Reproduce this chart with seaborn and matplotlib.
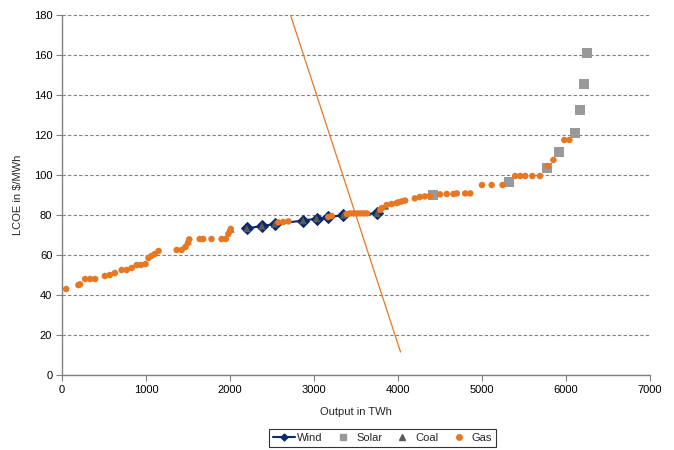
import matplotlib
matplotlib.use('Agg')
import matplotlib.pyplot as plt
from matplotlib.lines import Line2D
import seaborn as sns
import pandas as pd

# Data
wind_x = [2200, 2380, 2530, 2870, 3030, 3170, 3350, 3750]
wind_y = [73.3, 74.5, 75.5, 77.2, 78.2, 78.8, 80.0, 80.8]

solar_x = [4420, 5325, 5770, 5917, 6111, 6163, 6210, 6246]
solar_y = [89.8, 96.3, 103.3, 111.7, 121.2, 132.3, 145.3, 161.0]

coal_x = [1500, 2010, 2200, 2380, 2530, 2870, 3030, 3350, 3750, 3850]
coal_y = [67.0, 73.0, 73.3, 74.5, 75.5, 77.2, 78.2, 80.0, 80.8, 84.5]

gas_x = [50, 195, 215, 275, 335, 395, 510, 570, 630, 710, 770, 830, 890, 940,
         995, 1030, 1065, 1105, 1150, 1365, 1425, 1470, 1500, 1515, 1640, 1680,
         1780, 1900, 1950, 1980, 2000, 2010, 2575, 2635, 2695, 3170, 3210, 3390,
         3430, 3470, 3510, 3550, 3590, 3630, 3790, 3810, 3865, 3925, 3985, 4005,
         4045, 4085, 4200, 4260, 4320, 4380, 4500, 4580, 4660, 4700, 4800, 4860,
         5000, 5115, 5245, 5395, 5455, 5515, 5600, 5690, 5780, 5850, 5980, 6040]
gas_y = [43.0, 45.0, 45.3, 48.0, 48.0, 48.0, 49.5, 50.0, 51.0, 52.5, 52.5, 53.5,
         55.0, 55.0, 55.5, 58.5, 59.5, 60.5, 62.0, 62.5, 62.5, 64.0, 66.0, 67.8,
         68.0, 68.0, 68.0, 68.0, 68.0, 70.5, 72.0, 73.0, 76.3, 76.5, 76.8, 79.0,
         79.5, 80.5, 80.8, 80.8, 80.8, 80.8, 80.8, 80.8, 82.5, 83.5, 85.0, 85.5,
         86.0, 86.3, 86.8, 87.2, 88.3, 89.0, 89.3, 89.5, 90.3, 90.5, 90.5, 90.8,
         90.8, 90.8, 95.0, 95.0, 95.0, 99.5, 99.5, 99.5, 99.5, 99.5, 104.5, 107.5,
         117.5, 117.5]

demand_x = [2720, 4030]
demand_y = [180, 11.5]

# Colours
NAVY = '#0B2A6B'
GREY = '#999999'
COAL = '#5A5A5A'
ORANGE = '#E87722'

sns.set_style('white')
plt.rcParams['font.family'] = ['Liberation Sans', 'DejaVu Sans']

fig = plt.figure(figsize=(6.74, 4.5), dpi=100)
ax = fig.add_axes([62 / 674, 1 - 375 / 450, 588 / 674, 360 / 450])

wind = pd.DataFrame({'x': wind_x, 'y': wind_y})
solar = pd.DataFrame({'x': solar_x, 'y': solar_y})
coal = pd.DataFrame({'x': coal_x, 'y': coal_y})
gas = pd.DataFrame({'x': gas_x, 'y': gas_y})

sns.lineplot(data=wind, x='x', y='y', ax=ax, color=NAVY, lw=1.5, marker='D',
             markersize=6, markeredgecolor=NAVY, markerfacecolor=NAVY,
             sort=False, zorder=3)
sns.scatterplot(data=solar, x='x', y='y', ax=ax, color=GREY, marker='s', s=50,
                edgecolor='none', zorder=4)
sns.scatterplot(data=coal, x='x', y='y', ax=ax, color=COAL, marker='^', s=28,
                edgecolor='none', zorder=4)
sns.scatterplot(data=gas, x='x', y='y', ax=ax, color=ORANGE, marker='o', s=22,
                edgecolor='none', zorder=5)
ax.plot(demand_x, demand_y, color=ORANGE, lw=0.9, zorder=6)

ax.set_xlim(0, 7000)
ax.set_ylim(0, 180)
ax.set_xticks(range(0, 7001, 1000))
ax.set_yticks(range(0, 181, 20))
ax.yaxis.grid(True, color='#808080', linestyle=(0, (3, 2)), lw=0.8)
ax.xaxis.grid(False)
for s in ['top', 'right']:
    ax.spines[s].set_visible(False)
for s in ['left', 'bottom']:
    ax.spines[s].set_color('#808080')
    ax.spines[s].set_linewidth(1.0)
ax.tick_params(axis='both', direction='out', length=4, width=0.8,
               color='#808080', labelsize=8, labelcolor='black', pad=3)
ax.tick_params(axis='y', left=True)
ax.tick_params(axis='x', bottom=True)
ax.set_xlabel('Output in TWh', fontsize=8, labelpad=9)
ax.set_ylabel('LCOE in $/MWh', fontsize=8, labelpad=8)

handles = [
    Line2D([], [], color=NAVY, lw=1.5, marker='D', markersize=3.5),
    Line2D([], [], color=GREY, lw=0, marker='s', markersize=5),
    Line2D([], [], color=COAL, lw=0, marker='^', markersize=4),
    Line2D([], [], color=ORANGE, lw=0, marker='o', markersize=4),
]
leg = fig.legend(handles, ['Wind', 'Solar', 'Coal', 'Gas'], loc='center',
                 bbox_to_anchor=(382.5 / 674, 1 - 438 / 450), ncol=4,
                 fontsize=8, frameon=True, fancybox=False, handlelength=2.0,
                 handletextpad=0.2, columnspacing=0.8, borderpad=0.35)
leg.get_frame().set_edgecolor('black')
leg.get_frame().set_linewidth(0.8)

fig.savefig('out.png', dpi=100)
